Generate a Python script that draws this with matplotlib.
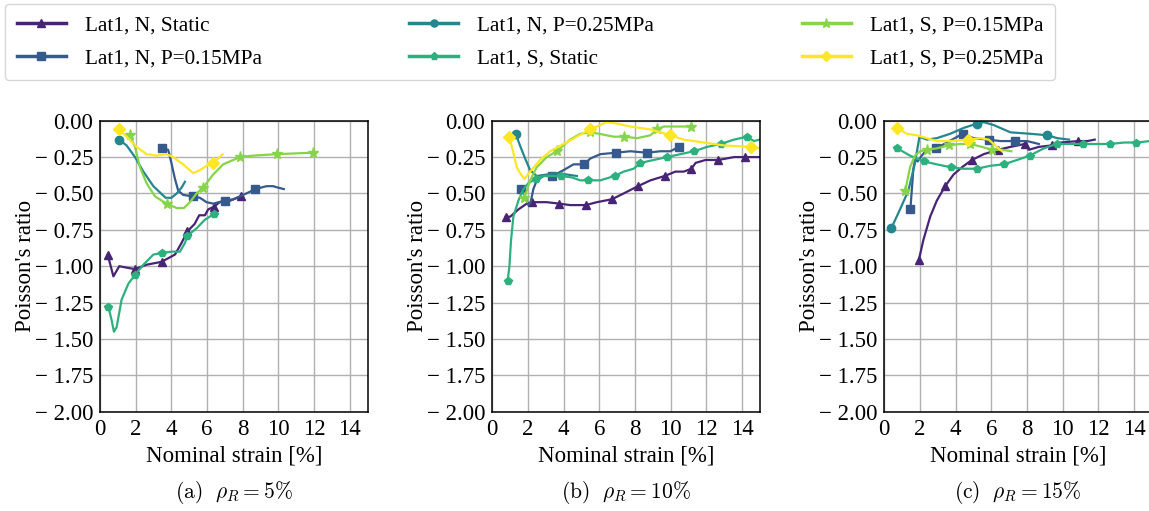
import numpy as np
import matplotlib
matplotlib.use("Agg")
import matplotlib.pyplot as plt
from matplotlib.ticker import FuncFormatter, MultipleLocator

plt.rcParams['font.family'] = ['Liberation Serif', 'DejaVu Serif']
plt.rcParams['mathtext.fontset'] = 'cm'

labels = ["Lat1, N, Static", "Lat1, N, P=0.15MPa", "Lat1, N, P=0.25MPa",
          "Lat1, S, Static", "Lat1, S, P=0.15MPa", "Lat1, S, P=0.25MPa"]
markers = ["^", "s", "o", "p", "*", "D"]
captions = [r"$\mathrm{(a)}\ \ \rho_R = 5\%$", r"$\mathrm{(b)}\ \ \rho_R = 10\%$",
            r"$\mathrm{(c)}\ \ \rho_R = 15\%$"]

# each series: (strain x, poisson y, indices of measured points shown as markers)
panel_a = [
    ([0.43, 0.75, 1.08, 1.5, 1.96, 2.6, 3.45, 4.2, 4.57, 4.9, 5.3, 5.56, 5.88, 6.06, 6.4, 6.7, 7.28, 7.9],
     [-0.92, -1.07, -1.0, -1.01, -1.02, -0.99, -0.97, -0.92, -0.84, -0.76, -0.71, -0.65, -0.65, -0.61, -0.59, -0.56, -0.55, -0.52],
     [0, 4, 6, 9, 14, 17]),
    ([3.5, 3.82, 4.0, 4.2, 4.38, 4.66, 5.19, 5.6, 5.97, 6.34, 6.98, 7.46, 8.2, 8.71, 9.33, 9.7, 9.98, 10.3],
     [-0.19, -0.20, -0.29, -0.40, -0.48, -0.51, -0.52, -0.53, -0.56, -0.57, -0.55, -0.54, -0.50, -0.47, -0.45, -0.45, -0.46, -0.47],
     [0, 6, 10, 13]),
    ([1.06, 1.49, 1.96, 2.43, 2.99, 3.68, 4.0, 4.3, 4.57, 4.76],
     [-0.13, -0.17, -0.25, -0.35, -0.45, -0.53, -0.53, -0.50, -0.46, -0.42],
     [0]),
    ([0.47, 0.65, 0.78, 0.93, 1.21, 1.59, 1.96, 2.43, 2.99, 3.45, 4.0, 4.48, 4.76, 4.9, 5.41, 5.88, 6.4],
     [-1.28, -1.37, -1.45, -1.42, -1.23, -1.12, -1.06, -0.99, -0.92, -0.91, -0.90, -0.90, -0.84, -0.79, -0.74, -0.68, -0.64],
     [0, 6, 9, 13, 16]),
    ([1.68, 1.96, 2.24, 2.61, 3.08, 3.73, 4.3, 4.7, 5.04, 5.41, 5.78, 6.34, 6.9, 7.84, 8.58, 9.89, 11.94],
     [-0.10, -0.18, -0.32, -0.43, -0.52, -0.57, -0.60, -0.60, -0.56, -0.50, -0.46, -0.37, -0.30, -0.25, -0.24, -0.23, -0.22],
     [0, 5, 10, 13, 15, 16]),
    ([1.06, 1.49, 2.05, 2.61, 3.17, 3.73, 4.1, 4.66, 5.22, 5.6, 5.97, 6.34, 6.62, 6.87],
     [-0.06, -0.11, -0.18, -0.23, -0.24, -0.23, -0.25, -0.30, -0.36, -0.34, -0.31, -0.29, -0.26, -0.23],
     [0, 11]),
]

panel_b = [
    ([0.75, 1.0, 1.46, 1.93, 2.25, 2.58, 3.05, 3.75, 4.36, 5.24, 5.86, 6.7, 7.36, 8.16, 8.86, 9.66, 10.26, 10.73, 11.16, 11.39, 11.95, 12.66, 13.55, 14.16, 14.66, 14.98],
     [-0.66, -0.66, -0.61, -0.57, -0.56, -0.56, -0.56, -0.57, -0.58, -0.58, -0.56, -0.54, -0.50, -0.45, -0.41, -0.38, -0.35, -0.35, -0.33, -0.29, -0.27, -0.27, -0.25, -0.25, -0.25, -0.25],
     [0, 4, 7, 9, 11, 13, 15, 18, 21, 23]),
    ([1.61, 1.84, 2.02, 2.15, 2.3, 2.49, 2.87, 3.37, 3.99, 4.55, 5.15, 5.49, 6.05, 6.93, 7.73, 8.67, 9.42, 9.98, 10.45],
     [-0.47, -0.52, -0.58, -0.56, -0.47, -0.41, -0.38, -0.38, -0.34, -0.30, -0.30, -0.26, -0.23, -0.22, -0.21, -0.22, -0.21, -0.21, -0.18],
     [0, 7, 10, 13, 15, 18]),
    ([1.31, 1.55, 1.84, 2.12, 2.49, 3.05, 3.61, 4.18, 4.74],
     [-0.09, -0.17, -0.26, -0.34, -0.38, -0.37, -0.36, -0.37, -0.38],
     [0]),
    ([0.86, 0.96, 1.05, 1.18, 1.46, 1.74, 2.02, 2.43, 2.87, 3.43, 3.86, 4.46, 4.93, 5.36, 6.05, 6.85, 7.36, 7.92, 8.30, 9.04, 9.79, 10.54, 11.29, 12.04, 12.79, 13.54, 14.29, 14.66, 14.98],
     [-1.10, -1.0, -0.82, -0.66, -0.55, -0.47, -0.43, -0.40, -0.38, -0.38, -0.38, -0.39, -0.41, -0.41, -0.41, -0.38, -0.35, -0.33, -0.29, -0.27, -0.25, -0.23, -0.21, -0.18, -0.16, -0.13, -0.11, -0.14, -0.13],
     [0, 7, 10, 13, 15, 18, 20, 22, 24, 26]),
    ([1.8, 2.12, 2.49, 3.05, 3.61, 4.36, 4.93, 5.49, 5.99, 6.8, 7.40, 8.11, 8.86, 9.23, 9.61, 10.36, 11.16],
     [-0.53, -0.41, -0.32, -0.25, -0.21, -0.13, -0.09, -0.08, -0.09, -0.11, -0.11, -0.12, -0.10, -0.06, -0.04, -0.04, -0.04],
     [0, 4, 7, 10, 13, 16]),
    ([0.94, 1.14, 1.37, 1.61, 1.8, 2.12, 2.68, 3.24, 3.99, 4.74, 5.45, 6.05, 6.39, 6.99, 7.73, 8.86, 9.98, 10.73, 11.85, 12.98, 14.51, 14.98],
     [-0.11, -0.20, -0.32, -0.37, -0.40, -0.35, -0.27, -0.21, -0.16, -0.11, -0.06, -0.03, -0.01, -0.02, -0.04, -0.06, -0.10, -0.13, -0.15, -0.17, -0.18, -0.19],
     [0, 10, 16, 20]),
]

panel_c = [
    ([1.93, 2.19, 2.57, 2.94, 3.41, 3.88, 4.35, 4.91, 5.57, 6.37, 7.07, 7.87, 8.10, 8.66, 9.37, 9.88, 10.87, 11.38, 11.79],
     [-0.96, -0.82, -0.66, -0.55, -0.45, -0.37, -0.32, -0.27, -0.23, -0.20, -0.18, -0.16, -0.20, -0.18, -0.17, -0.15, -0.14, -0.14, -0.13],
     [0, 4, 7, 9, 11, 14, 16]),
    ([1.46, 1.54, 1.63, 1.72, 1.87, 2.1, 2.38, 2.89, 3.51, 4.39, 5.0, 5.85, 6.5, 7.31, 8.0, 8.66],
     [-0.61, -0.48, -0.33, -0.27, -0.28, -0.24, -0.20, -0.19, -0.15, -0.09, -0.12, -0.13, -0.14, -0.14, -0.14, -0.16],
     [0, 7, 9, 11, 13]),
    ([0.39, 0.88, 1.35, 1.72, 1.97, 2.38, 2.94, 3.69, 4.44, 5.19, 5.57, 6.13, 7.07, 8.19, 9.13, 9.69, 10.35],
     [-0.74, -0.61, -0.48, -0.29, -0.11, -0.13, -0.12, -0.09, -0.05, -0.02, -0.01, -0.03, -0.08, -0.09, -0.10, -0.12, -0.13],
     [0, 9, 14]),
    ([0.73, 1.44, 2.23, 2.94, 3.73, 4.44, 5.19, 5.94, 6.69, 7.44, 8.15, 8.94, 9.65, 10.44, 11.15, 12.65, 13.44, 14.13, 14.88],
     [-0.19, -0.24, -0.28, -0.30, -0.32, -0.33, -0.33, -0.31, -0.30, -0.27, -0.24, -0.19, -0.16, -0.16, -0.16, -0.16, -0.15, -0.15, -0.14],
     [0, 2, 4, 6, 8, 10, 12, 14, 15, 17]),
    ([1.18, 1.44, 1.72, 2.0, 2.4, 2.94, 3.6, 4.25, 4.82, 5.47, 6.04, 6.6, 7.12],
     [-0.48, -0.32, -0.24, -0.21, -0.20, -0.19, -0.17, -0.16, -0.16, -0.18, -0.20, -0.20, -0.21],
     [0, 4, 6, 8, 10]),
    ([0.73, 1.26, 1.82, 2.38, 2.94, 3.69, 4.69, 5.38, 5.85, 6.22, 6.6],
     [-0.05, -0.09, -0.10, -0.12, -0.14, -0.14, -0.13, -0.12, -0.13, -0.17, -0.21],
     [0, 6]),
]

colors = plt.cm.viridis(np.linspace(0.1, 1.0, 6))

W, H = 1149, 511
fig = plt.figure(figsize=(W / 100, H / 100), dpi=100)

lefts = [100, 492.3, 884.3]
ax_w, ax_b, ax_h = 267.7, 511 - 411.7, 291.0


def ytick(v, pos):
    if abs(v) < 1e-9:
        return "0.00"
    return "\u2212 %.2f" % abs(v)


handles = []
for k, panel in enumerate([panel_a, panel_b, panel_c]):
    ax = fig.add_axes([lefts[k] / W, ax_b / H, ax_w / W, ax_h / H])
    for i, (x, y, mk) in enumerate(panel):
        ln, = ax.plot(x, y, color=colors[i], lw=1.6, marker=markers[i],
                      markevery=mk, ms=8 if markers[i] == "*" else 6,
                      label=labels[i])
        if k == 0:
            handles.append(ln)
    ax.set_xlim(0, 15)
    ax.set_ylim(-2, 0)
    ax.xaxis.set_major_locator(MultipleLocator(2))
    ax.yaxis.set_major_locator(MultipleLocator(0.25))
    ax.yaxis.set_major_formatter(FuncFormatter(ytick))
    ax.grid(True, color="#b0b0b0", lw=1.0)
    ax.set_axisbelow(True)
    ax.tick_params(length=0, labelsize=16.5, pad=5)
    for s in ax.spines.values():
        s.set_linewidth(1.1)
        s.set_color("black")
    ax.set_xlabel("Nominal strain [%]", fontsize=16.5, labelpad=4)
    ax.set_ylabel("Poisson's ratio", fontsize=16.5, labelpad=-1)
    fig.text((lefts[k] + ax_w / 2) / W, 1 - 492 / H, captions[k],
             ha="center", va="center", fontsize=15.5)

leg = fig.legend(handles=handles, loc="upper left", bbox_to_anchor=(5 / W, 1 - 4 / H),
                 ncol=3, fontsize=15.3, frameon=True, edgecolor="#cccccc",
                 handlelength=2.3, handletextpad=0.9, columnspacing=6.95,
                 markerscale=0.85, labelspacing=0.6, borderpad=0.55,
                 borderaxespad=0)
for h in leg.get_lines():
    h.set_linewidth(2.5)

fig.savefig("out.png", dpi=100)
